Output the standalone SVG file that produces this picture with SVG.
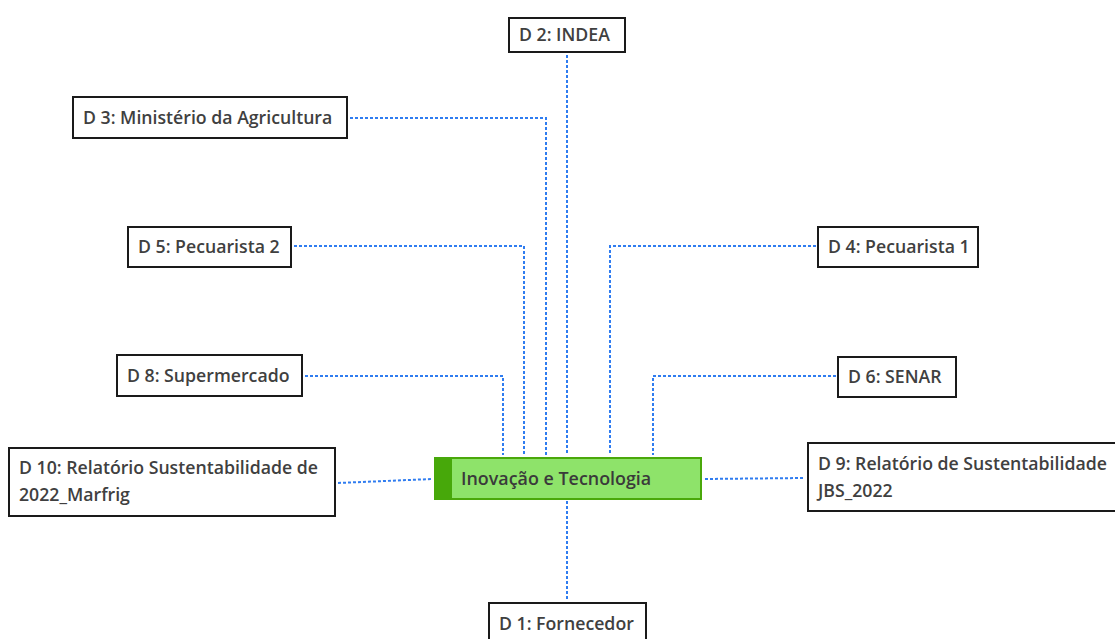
<svg xmlns="http://www.w3.org/2000/svg" width="1115" height="639" viewBox="0 0 1115 639">
  <style>
    .box { fill: #ffffff; stroke: #1a1a1a; stroke-width: 2; }
    .lbl { font-family: "Open Sans", "Noto Sans", "DejaVu Sans", sans-serif; font-size: 17.7px; font-weight: 600; fill: #404040; }
    .link { fill: none; stroke: #2f7cf0; stroke-width: 2; stroke-dasharray: 3 2; }
    .center-fill { fill: #8ee36a; stroke: #4aa80a; stroke-width: 2; }
    .center-bar { fill: #47a80a; }
    .center-lbl { font-family: "Open Sans", "Noto Sans", "DejaVu Sans", sans-serif; font-size: 17.9px; font-weight: 600; fill: #3a3a3a; }
  </style>
  <rect width="1115" height="639" fill="#ffffff"/>

  <!-- connectors -->
  <g id="connectors">
    <path class="link" d="M567,55 V455"/>
    <path class="link" d="M350,118 H546 V455"/>
    <path class="link" d="M294,246 H524 V455"/>
    <path class="link" d="M816,246 H610 V455"/>
    <path class="link" d="M305,376 H503 V455"/>
    <path class="link" d="M836,376 H653 V455"/>
    <path class="link" d="M338,483 L432,479"/>
    <path class="link" d="M705,479 L805,478"/>
    <path class="link" d="M567,501 V600"/>
  </g>

  <!-- central topic -->
  <g id="node-center">
    <rect class="center-fill" x="435" y="458" width="266" height="41"/>
    <rect class="center-bar" x="434" y="457" width="18" height="43"/>
    <text class="center-lbl" x="461" y="485">Inovação e Tecnologia</text>
  </g>

  <g id="node-d2">
    <rect class="box" x="509" y="18" width="116" height="34"/>
    <text class="lbl" x="519" y="41">D 2: INDEA</text>
  </g>

  <g id="node-d3">
    <rect class="box" x="73" y="97" width="274" height="41"/>
    <text class="lbl" x="83" y="124">D 3: Ministério da Agricultura</text>
  </g>

  <g id="node-d5">
    <rect class="box" x="128" y="227" width="163" height="40"/>
    <text class="lbl" x="138" y="253">D 5: Pecuarista 2</text>
  </g>

  <g id="node-d4">
    <rect class="box" x="818" y="227" width="160" height="40"/>
    <text class="lbl" x="828" y="253">D 4: Pecuarista 1</text>
  </g>

  <g id="node-d8">
    <rect class="box" x="117" y="355" width="185" height="41"/>
    <text class="lbl" x="127" y="382">D 8: Supermercado</text>
  </g>

  <g id="node-d6">
    <rect class="box" x="838" y="357" width="118" height="40"/>
    <text class="lbl" x="848" y="383">D 6: SENAR</text>
  </g>

  <g id="node-d10">
    <rect class="box" x="9" y="448" width="326" height="68"/>
    <text class="lbl" x="19" y="474">D 10: Relatório Sustentabilidade de</text>
    <text class="lbl" x="19" y="501">2022_Marfrig</text>
  </g>

  <g id="node-d9">
    <rect class="box" x="808" y="443" width="320" height="68"/>
    <text class="lbl" x="818" y="470">D 9: Relatório de Sustentabilidade</text>
    <text class="lbl" x="818" y="497">JBS_2022</text>
  </g>

  <g id="node-d1">
    <rect class="box" x="489" y="603" width="157" height="45"/>
    <text class="lbl" x="499" y="630">D 1: Fornecedor</text>
  </g>
</svg>
